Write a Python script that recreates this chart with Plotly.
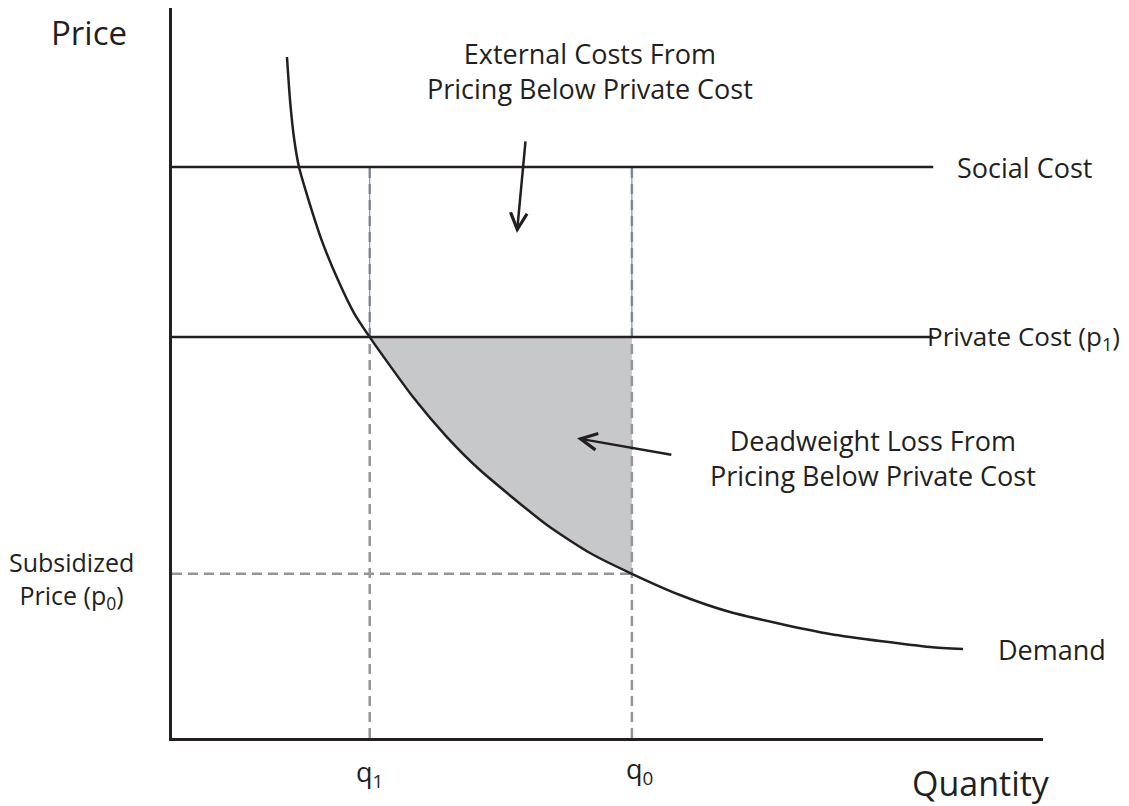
import plotly.graph_objects as go

# ---- data ----
q1 = 2.27            # quantity at private cost
q0 = 5.28            # quantity at subsidized price
social_cost = 7.79
private_cost = 5.47
subsidized_price = 2.24
cost_line_end = 8.74

demand_q = [1.320, 1.355, 1.401, 1.458, 1.561, 1.722, 1.906, 2.090, 2.27, 2.767, 3.146,
            3.536, 4.305, 4.799, 5.28, 5.832, 6.406, 7.555, 8.703, 9.082]
demand_p = [9.291, 8.704, 8.186, 7.790, 7.367, 6.780, 6.248, 5.798, 5.47, 4.652, 4.120,
            3.656, 2.906, 2.524, 2.24, 1.951, 1.719, 1.419, 1.241, 1.214]

X_MAX = 10.0
Y_MAX = 9.96

INK = "#231f20"
GREY = "#939598"
FILL = "#c7c8ca"
BLUE = "#4f81bd"
FONT = "Open Sans"

fig = go.Figure()

# Deadweight-loss shading: between private cost and demand, q1..q0
dwl_q = [q for q in demand_q if q1 <= q <= q0]
dwl_p = [p for q, p in zip(demand_q, demand_p) if q1 <= q <= q0]
fig.add_trace(go.Scatter(x=[q1, q0], y=[private_cost, private_cost], mode="lines",
                         line=dict(width=0), hoverinfo="skip", showlegend=False))
fig.add_trace(go.Scatter(x=dwl_q, y=dwl_p, mode="lines", fill="tonexty",
                         fillcolor=FILL, line=dict(width=0, shape="spline", smoothing=0.6),
                         hoverinfo="skip", showlegend=False))

# dashed guide lines
for q in (q1, q0):
    fig.add_trace(go.Scatter(x=[q, q], y=[0, social_cost], mode="lines",
                             line=dict(color=GREY, width=2.5, dash="10px,6px"),
                             hoverinfo="skip", showlegend=False))
    fig.add_trace(go.Scatter(x=[q, q], y=[private_cost, social_cost], mode="lines",
                             line=dict(color=BLUE, width=1),
                             hoverinfo="skip", showlegend=False))
fig.add_trace(go.Scatter(x=[0, q0], y=[subsidized_price, subsidized_price], mode="lines",
                         line=dict(color=GREY, width=2.5, dash="10px,6px"),
                         hoverinfo="skip", showlegend=False))

# cost lines
for level in (social_cost, private_cost):
    fig.add_trace(go.Scatter(x=[0, cost_line_end], y=[level, level], mode="lines",
                             line=dict(color=INK, width=2.5),
                             hoverinfo="skip", showlegend=False))

# demand curve
fig.add_trace(go.Scatter(x=demand_q, y=demand_p, mode="lines",
                         line=dict(color=INK, width=2.5, shape="spline", smoothing=0.6),
                         hoverinfo="skip", showlegend=False))


def label(text, x, y, size=27, xanchor="center", yanchor="middle", align="center"):
    # positions given in data units; placed via paper refs so labels outside
    # the axis ranges are still drawn
    fig.add_annotation(x=x / X_MAX, y=y / Y_MAX, xref="paper", yref="paper", text=text,
                       showarrow=False, xanchor=xanchor, yanchor=yanchor, align=align,
                       font=dict(family=FONT, size=size, color=INK))


label("External Costs From<br>Pricing Below Private Cost", 4.80, 9.10)
label("Deadweight Loss From<br>Pricing Below Private Cost", 8.05, 3.82)
label("Social Cost", 8.99, social_cost, xanchor="left")
label("Private Cost (p<sub>1</sub>)", 8.64, private_cost, size=26, xanchor="left")
label("Demand", 9.46, demand_p[-1], xanchor="left")
label("Subsidized<br>Price (p<sub>0</sub>)", -1.155, 2.16, size=25)
label("Price", -0.95, Y_MAX, size=33, yanchor="top")
label("Quantity", 9.29, -0.61, size=34)
label("q<sub>1</sub>", q1, -0.48)
label("q<sub>0</sub>", q0 + 0.09, -0.44)

# arrows
fig.add_annotation(x=3.96, y=6.89, ax=4.06, ay=8.16, xref="x", yref="y", axref="x", ayref="y",
                   showarrow=True, arrowhead=5, arrowsize=1.3, arrowwidth=2.5,
                   arrowcolor=INK, standoff=0, text="")
fig.add_annotation(x=4.65, y=4.09, ax=5.75, ay=3.86, xref="x", yref="y", axref="x", ayref="y",
                   showarrow=True, arrowhead=5, arrowsize=1.3, arrowwidth=2.5,
                   arrowcolor=INK, standoff=0, text="")

axis_common = dict(showgrid=False, zeroline=False, showticklabels=False, ticks="",
                   showline=True, linewidth=3, linecolor=INK, mirror=False, fixedrange=True)
fig.update_xaxes(range=[0, X_MAX], **axis_common)
fig.update_yaxes(range=[0, Y_MAX], **axis_common)
# page body adds an 8px margin, so the figure is 8px smaller and offsets compensate
fig.update_layout(width=1121, height=798, margin=dict(l=164, r=86, t=0, b=68),
                  plot_bgcolor="white", paper_bgcolor="white", showlegend=False,
                  font=dict(family=FONT, color=INK))

fig.write_html("out.html", config={"displayModeBar": False})
